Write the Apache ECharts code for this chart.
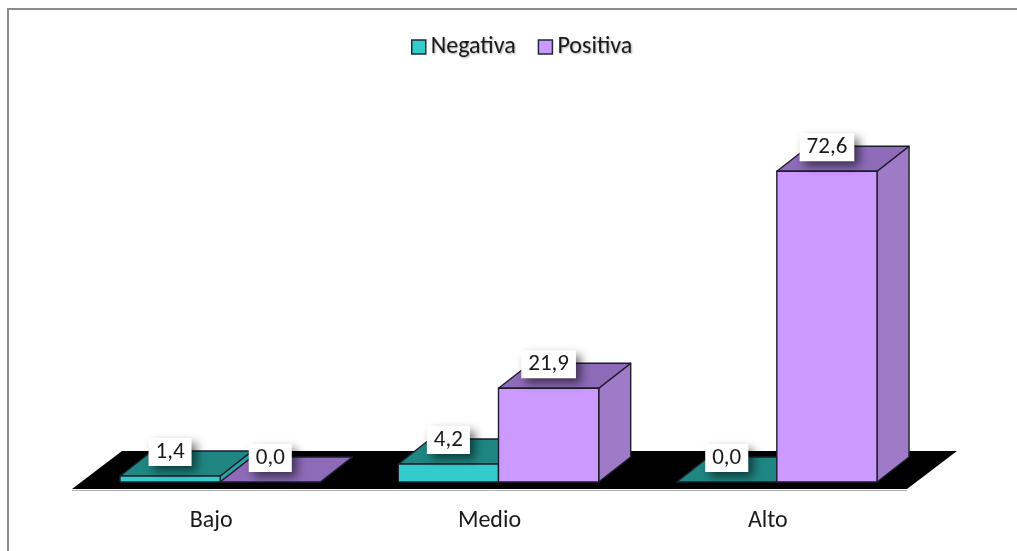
<!DOCTYPE html>
<html>
<head>
<meta charset="utf-8">
<script src="https://cdn.jsdelivr.net/npm/echarts@6/dist/echarts.min.js"></script>
<style>
  html, body { margin: 0; padding: 0; background: #ffffff; overflow: hidden; }
  #chart { width: 1017px; height: 551px; }
</style>
</head>
<body>
<div id="chart"></div>
<script>
// Data
const categories = ['Bajo', 'Medio', 'Alto'];
const seriesNames = ['Negativa', 'Positiva'];
const negativa = [1.4, 4.2, 0.0];
const positiva = [0.0, 21.9, 72.6];

// Face colours for each series: front, top, side
const palette = [
  { front: '#33CCCC', top: '#1F8682', side: '#27A4A4' },
  { front: '#CC99FF', top: '#8D6BB8', side: '#9F7BC7' }
];
const EDGE = '#1c1c2c';
const FONT = 'Carlito, Calibri, Lato, sans-serif';

// Oblique projection used for the 3D look
const BAR_DX = 32, BAR_DY = -25;          // depth of each bar
const FLOOR_FRONT = [-9, 7];              // floor front edge relative to bar base line
const FLOOR_BACK = [41, -31];             // floor back edge relative to bar base line
const BAR_SHARE = 0.36;                   // bar width as share of category band

function fmt(v) { return v.toFixed(1).replace('.', ','); }

function makeBarRenderer(sIdx) {
  const col = palette[sIdx];
  return function (params, api) {
    const cat = api.value(0);
    const val = api.value(1);
    const base = api.coord([cat, 0]);
    const top = api.coord([cat, val]);
    const band = api.size([1, 0])[0];
    const bw = band * BAR_SHARE;
    const x0 = base[0] - bw + sIdx * bw;
    const x1 = x0 + bw;
    const yb = base[1];
    const yt = top[1];
    const edge = { stroke: EDGE, lineWidth: 1.4, lineJoin: 'round' };
    const children = [];
    // right side face
    children.push({
      type: 'polygon',
      shape: { points: [[x1, yt], [x1 + BAR_DX, yt + BAR_DY], [x1 + BAR_DX, yb + BAR_DY], [x1, yb]] },
      style: Object.assign({ fill: col.side }, edge)
    });
    // top face
    children.push({
      type: 'polygon',
      shape: { points: [[x0, yt], [x0 + BAR_DX, yt + BAR_DY], [x1 + BAR_DX, yt + BAR_DY], [x1, yt]] },
      style: Object.assign({ fill: col.top }, edge)
    });
    // front face
    if (yb - yt > 0.5) {
      children.push({
        type: 'rect',
        shape: { x: x0, y: yt, width: bw, height: yb - yt },
        style: Object.assign({ fill: col.front }, edge)
      });
    }
    // value label in a white box
    children.push({
      type: 'text',
      z2: 100,
      style: {
        text: fmt(val),
        x: x0 + bw / 2,
        y: yt - 24,
        align: 'center',
        verticalAlign: 'middle',
        font: '23px ' + FONT,
        fill: '#1a1a1a',
        backgroundColor: '#ffffff',
        padding: [3, 7, 2, 7],
        shadowColor: 'rgba(0,0,0,0.55)',
        shadowBlur: 10,
        shadowOffsetX: 5,
        shadowOffsetY: 5
      }
    });
    return { type: 'group', children: children };
  };
}

// Black floor under the bars, spanning the whole category axis
function renderFloor(params, api) {
  const cs = params.coordSys;
  const yBase = api.coord([0, 0])[1];
  const xl = cs.x, xr = cs.x + cs.width;
  const pts = [
    [xl + FLOOR_FRONT[0], yBase + FLOOR_FRONT[1]],
    [xr + FLOOR_FRONT[0], yBase + FLOOR_FRONT[1]],
    [xr + FLOOR_BACK[0], yBase + FLOOR_BACK[1]],
    [xl + FLOOR_BACK[0], yBase + FLOOR_BACK[1]]
  ];
  return {
    type: 'group',
    children: [
      {
        type: 'line',
        shape: { x1: pts[0][0], y1: pts[0][1] + 1.5, x2: pts[1][0], y2: pts[1][1] + 1.5 },
        style: { stroke: '#b0b0b0', lineWidth: 1 }
      },
      { type: 'polygon', shape: { points: pts }, style: { fill: '#000000' } }
    ]
  };
}

const chart = echarts.init(document.getElementById('chart'), null, { renderer: 'canvas' });

chart.setOption({
  backgroundColor: '#ffffff',
  animation: false,
  // chart-area frame: only its top and left edges fall inside the page
  graphic: [{
    type: 'polyline',
    shape: { points: [[8, 560], [8, 9], [1030, 9]] },
    style: { fill: null, stroke: '#8c8c8c', lineWidth: 2 },
    silent: true
  }],
  legend: {
    left: 411,
    top: 35,
    padding: 0,
    icon: 'rect',
    itemWidth: 14,
    itemHeight: 14,
    itemGap: 22,
    data: seriesNames,
    itemStyle: { borderColor: '#1c2a3a', borderWidth: 1.5 },
    textStyle: {
      fontFamily: FONT,
      fontSize: 24,
      color: '#1a1a1a',
      textShadowColor: 'rgba(0,0,0,0.35)',
      textShadowBlur: 2,
      textShadowOffsetX: 1,
      textShadowOffsetY: 1
    }
  },
  grid: { left: 81, width: 835, top: 139.6, bottom: 69 },
  xAxis: {
    type: 'category',
    data: categories,
    axisLine: { show: false },
    axisTick: { show: false },
    axisLabel: {
      margin: 27,
      padding: [0, 18, 0, 0],
      fontFamily: FONT,
      fontSize: 24,
      color: '#1a1a1a'
    }
  },
  yAxis: {
    type: 'value',
    min: 0,
    max: 80,
    show: false
  },
  series: [
    {
      type: 'custom',
      name: 'floor',
      z: 1,
      silent: true,
      renderItem: renderFloor,
      data: [[0, 0]]
    },
    {
      type: 'custom',
      name: seriesNames[0],
      itemStyle: { color: palette[0].front },
      renderItem: makeBarRenderer(0),
      data: categories.map((c, i) => [i, negativa[i]])
    },
    {
      type: 'custom',
      name: seriesNames[1],
      itemStyle: { color: palette[1].front },
      renderItem: makeBarRenderer(1),
      data: categories.map((c, i) => [i, positiva[i]])
    }
  ]
});
</script>
</body>
</html>
